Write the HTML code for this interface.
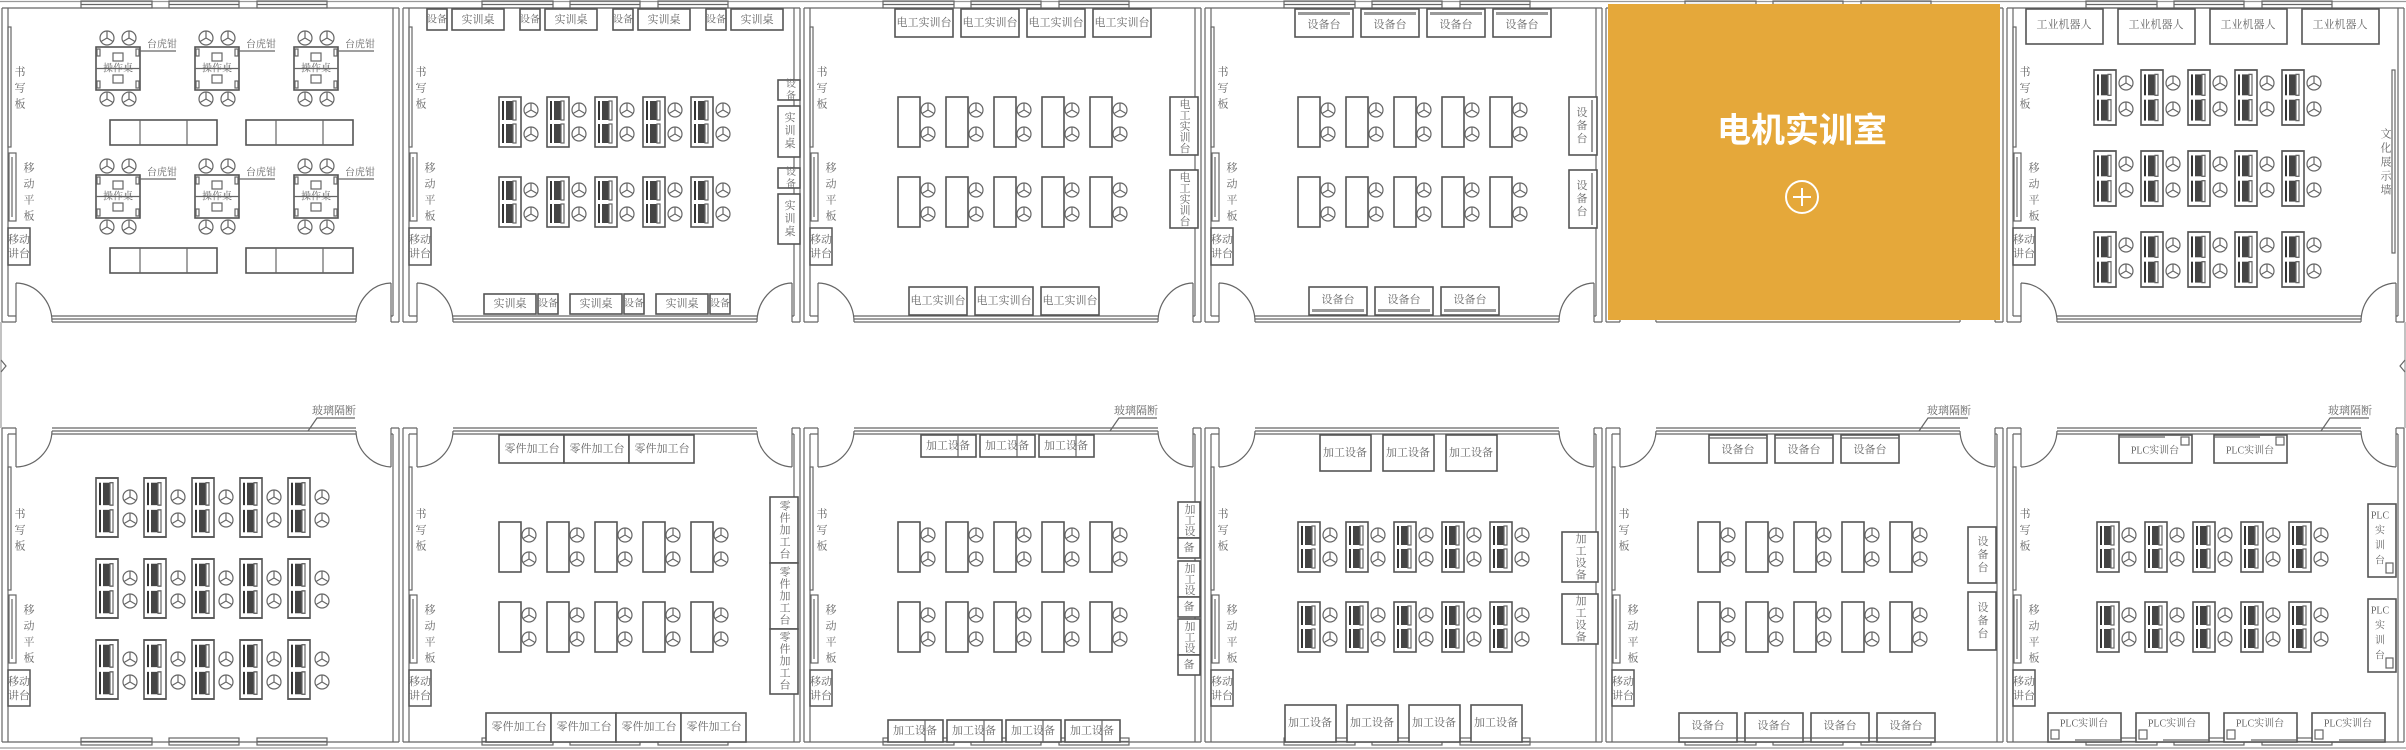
<!DOCTYPE html>
<html><head><meta charset="utf-8"><style>
html,body{margin:0;padding:0;background:#fff;}
svg{display:block;}
.l{fill:none;stroke:#666;stroke-width:1.2}
.b{fill:#fff;stroke:#555;stroke-width:1.6}
.t{font-family:"Liberation Serif","Noto Serif CJK SC","Noto Sans CJK SC",serif;font-size:11px;fill:#666;text-anchor:middle;dominant-baseline:central}
.v{writing-mode:vertical-rl;text-orientation:upright;letter-spacing:2px}
.w4{letter-spacing:5px}
.s{font-size:10px}
</style></head><body>
<svg width="2406" height="750" viewBox="0 0 2406 750" xmlns="http://www.w3.org/2000/svg">
<defs>
<g id="ch" class="l"><circle r="7"/><path d="M0 0V-7M0 0L6 3.5M0 0L-6 3.5"/></g>
<g id="pc"><rect class="b" x="0" y="0" width="22" height="50"/>
 <rect x="3" y="4" width="2" height="19" fill="#333"/><rect x="7" y="4" width="7" height="19" fill="#444"/><rect x="14" y="4" width="3" height="19" class="l"/>
 <rect x="3" y="27" width="2" height="19" fill="#333"/><rect x="7" y="27" width="7" height="19" fill="#444"/><rect x="14" y="27" width="3" height="19" class="l"/></g>
<g id="u1"><use href="#pc"/><use href="#ch" x="32" y="13"/><use href="#ch" x="32" y="37"/></g>
<g id="u2"><rect class="b" x="0" y="0" width="22" height="50"/><use href="#ch" x="30" y="13"/><use href="#ch" x="30" y="37"/></g>
<g id="r1"><use href="#u1"/><use href="#u1" x="48"/><use href="#u1" x="96"/><use href="#u1" x="144"/><use href="#u1" x="192"/></g>
<g id="r2"><use href="#u2"/><use href="#u2" x="48"/><use href="#u2" x="96"/><use href="#u2" x="144"/><use href="#u2" x="192"/></g>
<g id="u3"><use href="#pc" transform="scale(1,1.18)"/><use href="#ch" x="34" y="19"/><use href="#ch" x="34" y="42"/></g>
<g id="r3"><use href="#u3"/><use href="#u3" x="48"/><use href="#u3" x="96"/><use href="#u3" x="144"/><use href="#u3" x="192"/></g>
<g id="u4"><use href="#pc" transform="scale(1,1.1)"/><use href="#ch" x="32" y="13"/><use href="#ch" x="32" y="39"/></g>
<g id="r4"><use href="#u4"/><use href="#u4" x="47"/><use href="#u4" x="94"/><use href="#u4" x="141"/><use href="#u4" x="188"/></g>
<g id="cl"><rect class="b" x="0" y="0" width="44" height="43"/><path class="l" d="M0 21.5H44M44 4H80"/>
 <rect class="l" x="17" y="6" width="10" height="8"/><rect class="l" x="17" y="28" width="10" height="8"/>
 <rect class="l" x="1" y="2" width="3" height="7"/><rect class="l" x="40" y="2" width="3" height="7"/><rect class="l" x="1" y="34" width="3" height="7"/><rect class="l" x="40" y="34" width="3" height="7"/>
 <use href="#ch" x="11" y="-9"/><use href="#ch" x="33" y="-9"/><use href="#ch" x="11" y="52"/><use href="#ch" x="33" y="52"/></g>
<g id="bn"><rect class="b" x="0" y="0" width="107" height="25"/><path class="l" d="M30 0V25M77 0V25"/></g>
<g id="win"><rect class="l" x="81" y="0" width="71" height="7"/><rect class="l" x="169" y="0" width="70" height="7"/><rect class="l" x="257" y="0" width="70" height="7"/><path class="l" d="M81 3.5H152M169 3.5H239M257 3.5H327"/></g>
<g id="rt" class="l">
 <path d="M2 8V322M8 8V316M393 8V316M399 8V322M2 8H399"/>
 <use href="#win" y="1"/>
 <path d="M52 316H356M52 322H356M52 319H356M2 322H16M391 322H399M8 316H16M391 316H393"/>
 <path d="M16 283V322M16 283A37 39 0 0 1 52 322M391 283V322M391 283A36 39 0 0 0 356 322"/>
 <rect x="8" y="27" width="3" height="120"/><rect x="9" y="153" width="7" height="68"/><path d="M12 157V217"/>
 <rect x="8" y="228" width="22" height="37" style="stroke:#555;stroke-width:1.5"/>
</g>
<g id="rb" class="l">
 <path d="M2 428V742M8 434V742M393 434V742M399 428V742M2 742H399"/>
 <use href="#win" y="738"/>
 <path d="M52 428H356M52 434H356M52 431H356M2 428H16M391 428H399M8 434H16M391 434H393"/>
 <path d="M16 467V428M52 431A37 37 0 0 1 16 467M391 467V428M356 431A37 37 0 0 0 391 467"/>
 <rect x="8" y="467" width="3" height="123"/><rect x="9" y="595" width="7" height="68"/><path d="M12 599V659"/>
 <rect x="8" y="670" width="22" height="36" style="stroke:#555;stroke-width:1.5"/>
</g>
</defs>
<path class="l" d="M0 1.5H2406M1 322V428M2405 322V428M0 748H2406" style="stroke:#999"/>
<path class="l" d="M1 360L6 366L1 372M2405 360L2400 366L2405 372"/>

<g class="t">
<text class="v w4" x="19" y="90">书写板</text><text class="v w4" x="28" y="194">移动平板</text><text x="19" y="240">移动</text><text x="19" y="254">讲台</text>
<text class="v w4" x="420" y="90">书写板</text><text class="v w4" x="429" y="194">移动平板</text><text x="420" y="240">移动</text><text x="420" y="254">讲台</text>
<text class="v w4" x="821" y="90">书写板</text><text class="v w4" x="830" y="194">移动平板</text><text x="821" y="240">移动</text><text x="821" y="254">讲台</text>
<text class="v w4" x="1222" y="90">书写板</text><text class="v w4" x="1231" y="194">移动平板</text><text x="1222" y="240">移动</text><text x="1222" y="254">讲台</text>
<text class="v w4" x="2024" y="90">书写板</text><text class="v w4" x="2033" y="194">移动平板</text><text x="2024" y="240">移动</text><text x="2024" y="254">讲台</text>
<text class="v w4" x="19" y="532">书写板</text><text class="v w4" x="28" y="636">移动平板</text><text x="19" y="682">移动</text><text x="19" y="696">讲台</text>
<text class="v w4" x="420" y="532">书写板</text><text class="v w4" x="429" y="636">移动平板</text><text x="420" y="682">移动</text><text x="420" y="696">讲台</text>
<text class="v w4" x="821" y="532">书写板</text><text class="v w4" x="830" y="636">移动平板</text><text x="821" y="682">移动</text><text x="821" y="696">讲台</text>
<text class="v w4" x="1222" y="532">书写板</text><text class="v w4" x="1231" y="636">移动平板</text><text x="1222" y="682">移动</text><text x="1222" y="696">讲台</text>
<text class="v w4" x="1623" y="532">书写板</text><text class="v w4" x="1632" y="636">移动平板</text><text x="1623" y="682">移动</text><text x="1623" y="696">讲台</text>
<text class="v w4" x="2024" y="532">书写板</text><text class="v w4" x="2033" y="636">移动平板</text><text x="2024" y="682">移动</text><text x="2024" y="696">讲台</text>
</g>

<g><use href="#rt"/>
<use href="#cl" x="96" y="47"/><use href="#cl" x="195" y="47"/><use href="#cl" x="294" y="47"/>
<use href="#cl" x="96" y="175"/><use href="#cl" x="195" y="175"/><use href="#cl" x="294" y="175"/>
<use href="#bn" x="110" y="120"/><use href="#bn" x="246" y="120"/><use href="#bn" x="110" y="248"/><use href="#bn" x="246" y="248"/>
<g class="t s"><text x="118" y="69">操作桌</text><text x="217" y="69">操作桌</text><text x="316" y="69">操作桌</text>
<text x="118" y="197">操作桌</text><text x="217" y="197">操作桌</text><text x="316" y="197">操作桌</text>
<text x="162" y="45">台虎钳</text><text x="261" y="45">台虎钳</text><text x="360" y="45">台虎钳</text>
<text x="162" y="173">台虎钳</text><text x="261" y="173">台虎钳</text><text x="360" y="173">台虎钳</text></g>
</g>

<g transform="translate(401,0)"><use href="#rt"/>
<use href="#r1" x="98" y="97"/><use href="#r1" x="98" y="177"/>
<rect class="b" x="26" y="9" width="20" height="21"/><rect class="b" x="51" y="9" width="52" height="21"/>
<rect class="b" x="119" y="9" width="20" height="21"/><rect class="b" x="144" y="9" width="52" height="21"/>
<rect class="b" x="212" y="9" width="20" height="21"/><rect class="b" x="237" y="9" width="52" height="21"/>
<rect class="b" x="305" y="9" width="20" height="21"/><rect class="b" x="330" y="9" width="52" height="21"/>
<rect class="b" x="377" y="80" width="22" height="20"/><rect class="b" x="377" y="106" width="22" height="51"/>
<rect class="b" x="377" y="168" width="22" height="20"/><rect class="b" x="377" y="194" width="22" height="50"/>
<rect class="b" x="83" y="294" width="52" height="20"/><rect class="b" x="137" y="294" width="20" height="20"/>
<rect class="b" x="169" y="294" width="52" height="20"/><rect class="b" x="223" y="294" width="20" height="20"/>
<rect class="b" x="255" y="294" width="52" height="20"/><rect class="b" x="309" y="294" width="20" height="20"/>
<g class="t"><text class="s" x="36" y="20">设备</text><text x="77" y="20">实训桌</text><text class="s" x="129" y="20">设备</text><text x="170" y="20">实训桌</text>
<text class="s" x="222" y="20">设备</text><text x="263" y="20">实训桌</text><text class="s" x="315" y="20">设备</text><text x="356" y="20">实训桌</text>
<text class="v s" x="388" y="90">设备</text><text class="v" x="388" y="131">实训桌</text><text class="v s" x="388" y="178">设备</text><text class="v" x="388" y="219">实训桌</text>
<text x="109" y="304">实训桌</text><text class="s" x="147" y="304">设备</text><text x="195" y="304">实训桌</text><text class="s" x="233" y="304">设备</text><text x="281" y="304">实训桌</text><text class="s" x="319" y="304">设备</text></g>
</g>

<g transform="translate(802,0)"><use href="#rt"/>
<use href="#r2" x="96" y="97"/><use href="#r2" x="96" y="177"/>
<rect class="b" x="93" y="9" width="58" height="28"/><rect class="b" x="159" y="9" width="58" height="28"/><rect class="b" x="225" y="9" width="58" height="28"/><rect class="b" x="291" y="9" width="58" height="28"/>
<rect class="b" x="368" y="97" width="28" height="58"/><rect class="b" x="368" y="170" width="28" height="58"/>
<rect class="b" x="107" y="287" width="58" height="28"/><rect class="b" x="173" y="287" width="58" height="28"/><rect class="b" x="239" y="287" width="58" height="28"/>
<g class="t"><text x="122" y="23">电工实训台</text><text x="188" y="23">电工实训台</text><text x="254" y="23">电工实训台</text><text x="320" y="23">电工实训台</text>
<text class="v" x="382" y="126" style="letter-spacing:0">电工实训台</text><text class="v" x="382" y="199" style="letter-spacing:0">电工实训台</text>
<text x="136" y="301">电工实训台</text><text x="202" y="301">电工实训台</text><text x="268" y="301">电工实训台</text></g>
</g>

<g transform="translate(1203,0)"><use href="#rt"/>
<use href="#r2" x="95" y="97"/><use href="#r2" x="95" y="177"/>
<g class="b"><rect x="92" y="9" width="58" height="28"/><rect x="158" y="9" width="58" height="28"/><rect x="224" y="9" width="58" height="28"/><rect x="290" y="9" width="58" height="28"/>
<rect x="366" y="97" width="28" height="58"/><rect x="366" y="170" width="28" height="58"/>
<rect x="106" y="287" width="58" height="28"/><rect x="172" y="287" width="58" height="28"/><rect x="238" y="287" width="58" height="28"/></g>
<g fill="#999"><rect x="95" y="12" width="52" height="3"/><rect x="161" y="12" width="52" height="3"/><rect x="227" y="12" width="52" height="3"/><rect x="293" y="12" width="52" height="3"/>
<rect x="388" y="100" width="2" height="52"/><rect x="388" y="173" width="2" height="52"/>
<rect x="109" y="309" width="52" height="3"/><rect x="175" y="309" width="52" height="3"/><rect x="241" y="309" width="52" height="3"/></g>
<g class="t"><text x="121" y="25">设备台</text><text x="187" y="25">设备台</text><text x="253" y="25">设备台</text><text x="319" y="25">设备台</text>
<text class="v" x="378" y="126">设备台</text><text class="v" x="378" y="199">设备台</text>
<text x="135" y="300">设备台</text><text x="201" y="300">设备台</text><text x="267" y="300">设备台</text></g>
</g>

<g transform="translate(1604,0)"><use href="#rt"/></g>
<rect x="1608" y="4" width="392" height="316" fill="#E5A83A"/>
<text x="1802" y="131" text-anchor="middle" dominant-baseline="central" style="font-family:'Liberation Sans','Noto Sans CJK SC',sans-serif;font-size:34px;font-weight:bold;fill:#fff">电机实训室</text>
<circle cx="1802" cy="197" r="16" fill="none" stroke="#fff" stroke-width="2"/>
<path d="M1802 188V206M1793 197H1811" stroke="#fff" stroke-width="2"/>

<g transform="translate(2005,0)"><use href="#rt"/>
<use href="#r4" x="89" y="70"/><use href="#r4" x="89" y="151"/><use href="#r4" x="89" y="232"/>
<g class="b"><rect x="21" y="9" width="77" height="35"/><rect x="113" y="9" width="77" height="35"/><rect x="205" y="9" width="77" height="35"/><rect x="297" y="9" width="77" height="35"/></g>
<rect class="l" x="387" y="70" width="3" height="183"/>
<g class="t"><text x="59" y="25">工业机器人</text><text x="151" y="25">工业机器人</text><text x="243" y="25">工业机器人</text><text x="335" y="25">工业机器人</text>
<text class="v" x="380" y="163" style="letter-spacing:3px">文化展示墙</text></g>
</g>

<g><use href="#rb"/>
<use href="#r3" x="96" y="478"/><use href="#r3" x="96" y="559"/><use href="#r3" x="96" y="640"/>
<path class="l" d="M355 418H317L308 431"/><text class="t" x="334" y="411">玻璃隔断</text>
</g>

<g transform="translate(401,0)"><use href="#rb"/>
<use href="#r2" x="98" y="522"/><use href="#r2" x="98" y="602"/>
<g class="b"><rect x="98" y="435" width="65" height="28"/><rect x="163" y="435" width="65" height="28"/><rect x="228" y="435" width="65" height="28"/>
<rect x="369" y="497" width="28" height="66"/><rect x="369" y="563" width="28" height="66"/><rect x="369" y="629" width="28" height="65"/>
<rect x="85" y="713" width="65" height="29"/><rect x="150" y="713" width="65" height="29"/><rect x="215" y="713" width="65" height="29"/><rect x="280" y="713" width="65" height="29"/></g>
<g class="t"><text x="131" y="449">零件加工台</text><text x="196" y="449">零件加工台</text><text x="261" y="449">零件加工台</text>
<text class="v" x="383" y="530" style="letter-spacing:1px">零件加工台</text><text class="v" x="383" y="596" style="letter-spacing:1px">零件加工台</text><text class="v" x="383" y="661" style="letter-spacing:1px">零件加工台</text>
<text x="118" y="727">零件加工台</text><text x="183" y="727">零件加工台</text><text x="248" y="727">零件加工台</text><text x="313" y="727">零件加工台</text></g>
</g>

<g transform="translate(802,0)"><use href="#rb"/>
<use href="#r2" x="96" y="522"/><use href="#r2" x="96" y="602"/>
<g class="b"><rect x="119" y="435" width="55" height="22"/><rect x="178" y="435" width="55" height="22"/><rect x="237" y="435" width="55" height="22"/>
<rect x="376" y="502" width="22" height="36"/><rect x="376" y="538" width="22" height="20"/>
<rect x="376" y="561" width="22" height="36"/><rect x="376" y="597" width="22" height="20"/>
<rect x="376" y="619" width="22" height="36"/><rect x="376" y="655" width="22" height="20"/>
<rect x="86" y="720" width="55" height="22"/><rect x="145" y="720" width="55" height="22"/><rect x="204" y="720" width="55" height="22"/><rect x="263" y="720" width="55" height="22"/></g>
<path class="l" d="M156 435V457M215 435V457M274 435V457M123 720V742M182 720V742M241 720V742M300 720V742"/>
<g class="t"><text x="146" y="446">加工设备</text><text x="205" y="446">加工设备</text><text x="264" y="446">加工设备</text>
<text class="v" x="387" y="520" style="letter-spacing:0">加工设</text><text x="387" y="548">备</text>
<text class="v" x="387" y="579" style="letter-spacing:0">加工设</text><text x="387" y="607">备</text>
<text class="v" x="387" y="637" style="letter-spacing:0">加工设</text><text x="387" y="665">备</text>
<text x="113" y="731">加工设备</text><text x="172" y="731">加工设备</text><text x="231" y="731">加工设备</text><text x="290" y="731">加工设备</text></g>
<path class="l" d="M355 418H317L308 431"/><text class="t" x="334" y="411">玻璃隔断</text>
</g>

<g transform="translate(1203,0)"><use href="#rb"/>
<use href="#r1" x="95" y="522"/><use href="#r1" x="95" y="602"/>
<g class="b"><rect x="117" y="435" width="51" height="36"/><rect x="180" y="435" width="51" height="36"/><rect x="243" y="435" width="51" height="36"/>
<rect x="359" y="532" width="36" height="50"/><rect x="359" y="594" width="36" height="50"/>
<rect x="82" y="705" width="51" height="37"/><rect x="144" y="705" width="51" height="37"/><rect x="206" y="705" width="51" height="37"/><rect x="268" y="705" width="51" height="37"/></g>
<g class="t"><text x="142" y="453">加工设备</text><text x="205" y="453">加工设备</text><text x="268" y="453">加工设备</text>
<text class="v" x="377" y="557" style="letter-spacing:1px">加工设备</text><text class="v" x="377" y="619" style="letter-spacing:1px">加工设备</text>
<text x="107" y="723">加工设备</text><text x="169" y="723">加工设备</text><text x="231" y="723">加工设备</text><text x="293" y="723">加工设备</text></g>
</g>

<g transform="translate(1604,0)"><use href="#rb"/>
<use href="#r2" x="94" y="522"/><use href="#r2" x="94" y="602"/>
<g class="b"><rect x="105" y="435" width="58" height="28"/><rect x="171" y="435" width="58" height="28"/><rect x="237" y="435" width="58" height="28"/>
<rect x="364" y="527" width="28" height="56"/><rect x="364" y="592" width="28" height="58"/>
<rect x="75" y="713" width="58" height="29"/><rect x="141" y="713" width="58" height="29"/><rect x="207" y="713" width="58" height="29"/><rect x="273" y="713" width="58" height="29"/></g>
<path class="l" d="M105 438H163M171 438H229M237 438H295M75 738H133M141 738H199M207 738H265M273 738H331"/>
<g class="t"><text x="134" y="450">设备台</text><text x="200" y="450">设备台</text><text x="266" y="450">设备台</text>
<text class="v" x="378" y="555">设备台</text><text class="v" x="378" y="621">设备台</text>
<text x="104" y="726">设备台</text><text x="170" y="726">设备台</text><text x="236" y="726">设备台</text><text x="302" y="726">设备台</text></g>
<path class="l" d="M364 418H324L315 431"/><text class="t" x="345" y="411">玻璃隔断</text>
</g>

<g transform="translate(2005,0)"><use href="#rb"/>
<use href="#r1" x="92" y="522"/><use href="#r1" x="92" y="602"/>
<g class="b"><rect x="114" y="435" width="73" height="28"/><rect x="209" y="435" width="73" height="28"/>
<rect x="363" y="504" width="28" height="73"/><rect x="363" y="599" width="28" height="73"/>
<rect x="43" y="713" width="73" height="29"/><rect x="131" y="713" width="73" height="29"/><rect x="219" y="713" width="73" height="29"/><rect x="307" y="713" width="73" height="29"/></g>
<g class="l"><rect x="176" y="437" width="8" height="8"/><rect x="271" y="437" width="8" height="8"/><path d="M114 437H160M209 437H255"/>
<rect x="381" y="563" width="7" height="10"/><rect x="381" y="658" width="7" height="10"/>
<rect x="46" y="730" width="8" height="9"/><rect x="134" y="730" width="8" height="9"/><rect x="222" y="730" width="8" height="9"/><rect x="310" y="730" width="8" height="9"/>
<path d="M70 740H116M158 740H204M246 740H292M334 740H380"/></g>
<g class="t s"><text x="150" y="451">PLC实训台</text><text x="245" y="451">PLC实训台</text>
<text x="375" y="516">PLC</text><text x="375" y="531">实</text><text x="375" y="546">训</text><text x="375" y="561">台</text>
<text x="375" y="611">PLC</text><text x="375" y="626">实</text><text x="375" y="641">训</text><text x="375" y="656">台</text>
<text x="79" y="724">PLC实训台</text><text x="167" y="724">PLC实训台</text><text x="255" y="724">PLC实训台</text><text x="343" y="724">PLC实训台</text></g>
<path class="l" d="M364 418H325L316 431"/><text class="t" x="345" y="411">玻璃隔断</text>
</g>
</svg>
</body></html>
